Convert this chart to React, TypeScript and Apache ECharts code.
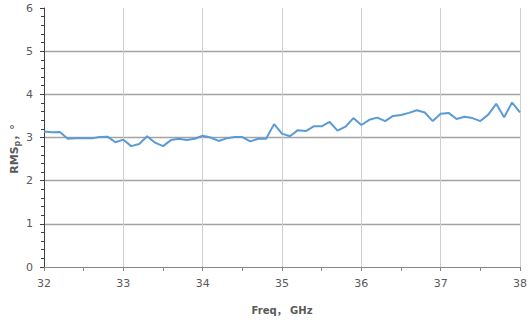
import React, { useEffect, useRef } from "react";
import * as echarts from "echarts";

// Frequency points, GHz
const freqGHz = [
  32.0, 32.1, 32.2, 32.3, 32.4, 32.5, 32.6, 32.7, 32.8, 32.9,
  33.0, 33.1, 33.2, 33.3, 33.4, 33.5, 33.6, 33.7, 33.8, 33.9,
  34.0, 34.1, 34.2, 34.3, 34.4, 34.5, 34.6, 34.7, 34.8, 34.9,
  35.0, 35.1, 35.2, 35.3, 35.4, 35.5, 35.6, 35.7, 35.8, 35.9,
  36.0, 36.1, 36.2, 36.3, 36.4, 36.5, 36.6, 36.7, 36.8, 36.9,
  37.0, 37.1, 37.2, 37.3, 37.4, 37.5, 37.6, 37.7, 37.8, 37.9,
  38.0,
];

// RMS phase error, degrees
const rmsPhase = [
  3.14, 3.12, 3.13, 2.97, 2.98, 2.98, 2.98, 3.01, 3.02, 2.89,
  2.95, 2.8, 2.85, 3.03, 2.88, 2.8, 2.94, 2.97, 2.94, 2.97,
  3.04, 3.0, 2.92, 2.98, 3.01, 3.01, 2.91, 2.97, 2.97, 3.31,
  3.09, 3.03, 3.17, 3.15, 3.26, 3.26, 3.36, 3.16, 3.25, 3.45,
  3.29, 3.41, 3.46, 3.38, 3.5, 3.52, 3.57, 3.63, 3.58, 3.38,
  3.55, 3.57, 3.43, 3.48, 3.45, 3.38, 3.53, 3.78, 3.47, 3.81,
  3.58,
];

const xTicks = [32, 33, 34, 35, 36, 37, 38];
const yTicks = [0, 1, 2, 3, 4, 5, 6];

const FONT = "'DejaVu Sans', 'Noto Sans CJK SC', sans-serif";
const LABEL_COLOR = "#595959";

export default function App() {
  const ref = useRef<HTMLDivElement>(null);

  useEffect(() => {
    if (!ref.current) return;
    const chart = echarts.init(ref.current, null, { renderer: "svg" });
    chart.setOption({
      animation: false,
      backgroundColor: "#ffffff",
      grid: { left: 44, right: 7, top: 8, bottom: 50, containLabel: false },
      xAxis: {
        type: "value",
        min: xTicks[0],
        max: xTicks[xTicks.length - 1],
        interval: 1,
        name: "Freq， GHz",
        nameLocation: "middle",
        nameGap: 38,
        nameTextStyle: { fontFamily: FONT, fontSize: 10, fontWeight: "bold", color: LABEL_COLOR },
        axisLine: { show: true, lineStyle: { color: "#868686", width: 1 } },
        axisTick: { show: true, length: 4, lineStyle: { color: "#868686" } },
        minorTick: { show: true, splitNumber: 2, length: 4, lineStyle: { color: "#868686" } },
        axisLabel: { fontFamily: FONT, fontSize: 11, color: LABEL_COLOR, margin: 11 },
        splitLine: {
          show: true,
          showMinLine: false,
          showMaxLine: true,
          lineStyle: { color: "#cfcfcf", width: 1 },
        },
      },
      yAxis: {
        type: "value",
        min: yTicks[0],
        max: yTicks[yTicks.length - 1],
        interval: 1,
        axisLine: { show: true, lineStyle: { color: "#404040", width: 1 } },
        axisTick: { show: true, length: 4, lineStyle: { color: "#404040" } },
        minorTick: { show: true, splitNumber: 5, length: 3, lineStyle: { color: "#404040" } },
        axisLabel: { fontFamily: FONT, fontSize: 11, color: LABEL_COLOR, margin: 11 },
        splitLine: {
          show: true,
          showMinLine: false,
          showMaxLine: false,
          lineStyle: { color: "#a3a3a3", width: 1.3 },
        },
      },
      graphic: [
        {
          type: "text",
          x: 14,
          y: 149,
          rotation: Math.PI / 2,
          style: {
            text: "{b|RMS}{s|p}{b|，°}",
            align: "center",
            verticalAlign: "middle",
            rich: {
              b: { fontFamily: FONT, fontSize: 11, fontWeight: "bold", fill: LABEL_COLOR, color: LABEL_COLOR },
              s: {
                fontFamily: FONT,
                fontSize: 8,
                fontWeight: "bold",
                fill: LABEL_COLOR,
                color: LABEL_COLOR,
                padding: [6, 0, 0, 0],
              },
            },
          },
        },
      ],
      series: [
        {
          type: "line",
          data: freqGHz.map((f, i) => [f, rmsPhase[i]]),
          showSymbol: false,
          symbol: "none",
          lineStyle: { color: "#5b9bd5", width: 2 },
          itemStyle: { color: "#5b9bd5" },
        },
      ],
    });
    return () => chart.dispose();
  }, []);

  return (
    <div
      ref={ref}
      style={{ position: "fixed", left: 0, top: 0, width: 530, height: 320 }}
    />
  );
}
